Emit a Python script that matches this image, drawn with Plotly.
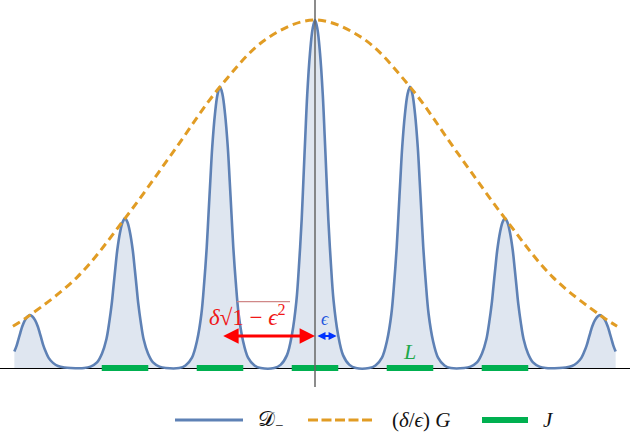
import plotly.graph_objects as go

# peaks of D_- : centres (in units of the peak spacing) and heights (centre peak = 1)
peak_x = [-3, -2, -1, 0, 1, 2, 3]
peak_h = [0.152, 0.430, 0.808, 1.0, 0.808, 0.430, 0.152]

prof_dx = [-0.43, -0.363, -0.295, -0.242, -0.196, -0.165, -0.140, -0.121, -0.102, -0.082, -0.053, -0.025, 0.0,
           0.025, 0.053, 0.082, 0.102, 0.121, 0.140, 0.165, 0.196, 0.242, 0.295, 0.363, 0.43]
prof_y = [0.0, 0.009, 0.037, 0.097, 0.192, 0.31, 0.428, 0.547, 0.666, 0.785, 0.904, 0.975, 1.0,
          0.975, 0.904, 0.785, 0.666, 0.547, 0.428, 0.31, 0.192, 0.097, 0.037, 0.009, 0.0]

x_end = 3.17  # the plotted curve stops here on both sides

# dashed envelope (delta/eps) G
env_x = [-3.18, -3.0, -2.5, -2.0, -1.5, -1.0, -0.5, 0.0, 0.5, 1.0, 1.5, 2.0, 2.5, 3.0, 3.18]
env_y = [0.12, 0.152, 0.262, 0.430, 0.618, 0.808, 0.948, 1.0, 0.948, 0.808, 0.618, 0.430, 0.262, 0.152, 0.12]

# green intervals J
J_left = [-2.245, -1.245, -0.245, 0.755, 1.755]
J_right = [-1.755, -0.755, 0.245, 1.245, 2.245]

BLUE = '#5E81B5'
ORANGE = '#E19C24'
GREEN = '#00B050'
RED = '#F01818'
SERIF = 'Liberation Serif'

dx, dy = [], []
for c, h in zip(peak_x, peak_h):
    for o, s in zip(prof_dx, prof_y):
        if abs(c + o) <= x_end:
            dx.append(c + o)
            dy.append(h * s)

jx, jy = [], []
for l, r in zip(J_left, J_right):
    jx += [l, r, None]
    jy += [0, 0, None]

fig = go.Figure()
fig.add_trace(go.Scatter(x=dx, y=dy, mode='lines', line=dict(color=BLUE, width=2.6, shape='spline'),
                         fill='tozeroy', fillcolor='rgba(94,129,181,0.2)', showlegend=False))
fig.add_trace(go.Scatter(x=env_x, y=env_y, mode='lines',
                         line=dict(color=ORANGE, width=3, dash='8px,5px', shape='spline'),
                         showlegend=False))
fig.add_trace(go.Scatter(x=jx, y=jy, mode='lines', line=dict(color=GREEN, width=6), showlegend=False))

# vertical axis line
fig.add_shape(type='line', xref='x', yref='paper', x0=0, x1=0, y0=0, y1=1,
              line=dict(color='#666666', width=1.5), layer='above')
# overline of the square root
fig.add_shape(type='line', xref='x', yref='y', x0=-0.824, x1=-0.263, y0=0.1905, y1=0.1905,
              line=dict(color='#D08888', width=1.2))

# double arrows
fig.add_annotation(x=0, y=0.092, ax=-0.982, ay=0.092, xref='x', yref='y', axref='x', ayref='y',
                   text='', showarrow=True, arrowside='end+start', arrowhead=2, arrowsize=1.1,
                   arrowwidth=2.8, arrowcolor='#FF0000', standoff=0, startstandoff=0)
fig.add_annotation(x=0.228, y=0.092, ax=0.01, ay=0.092, xref='x', yref='y', axref='x', ayref='y',
                   text='', showarrow=True, arrowside='end+start', arrowhead=2, arrowsize=0.85,
                   arrowwidth=1.9, arrowcolor='#0033FF', standoff=0, startstandoff=0)

fig.add_annotation(x=-0.71, y=0.150, xref='x', yref='y', showarrow=False,
                   text='<i>δ</i>√1 − <i>ϵ</i><sup>2</sup>', font=dict(family=SERIF, size=23, color=RED))
fig.add_annotation(x=0.105, y=0.14, xref='x', yref='y', showarrow=False,
                   text='<i>ϵ</i>', font=dict(family=SERIF, size=18, color='#2255DD'))
fig.add_annotation(x=1.0, y=0.048, xref='x', yref='y', showarrow=False,
                   text='<i>L</i>', font=dict(family=SERIF, size=22, color='#1EA84A'))

# legend drawn below the plot
ly = (387 - 420) / 387
fig.add_shape(type='line', xref='paper', yref='paper', x0=175 / 630, x1=243 / 630, y0=ly, y1=ly,
              line=dict(color=BLUE, width=2.8))
fig.add_shape(type='line', xref='paper', yref='paper', x0=308 / 630, x1=373 / 630, y0=ly, y1=ly,
              line=dict(color=ORANGE, width=2.8, dash='10px,3.5px'))
fig.add_shape(type='line', xref='paper', yref='paper', x0=482 / 630, x1=528 / 630, y0=ly, y1=ly,
              line=dict(color=GREEN, width=6))
for px, txt in [(256, '𝒟<sub>−</sub>'), (390, '(<i>δ</i>/<i>ϵ</i>) <i>G</i>'), (541, '<i>J</i>')]:
    fig.add_annotation(x=px / 630, y=ly, xref='paper', yref='paper', xanchor='left', yanchor='middle',
                       showarrow=False, text=txt, font=dict(family=SERIF, size=21, color='#111111'))

fig.update_layout(
    width=630, height=432,
    margin=dict(l=0, r=0, t=0, b=45),
    plot_bgcolor='white', paper_bgcolor='white',
    xaxis=dict(range=[-3.316, 3.316], showgrid=False, zeroline=False, showticklabels=False,
               ticks='', showline=False),
    yaxis=dict(range=[-0.0546, 1.0575], showgrid=False, zeroline=True, zerolinecolor='black',
               zerolinewidth=1.3, showticklabels=False, ticks='', showline=False),
)

# page body has an 8px default margin; drop it so the figure sits at the window corner
fig.write_html("out.html", config={'displayModeBar': False},
               post_script="document.body.style.margin='0';")
